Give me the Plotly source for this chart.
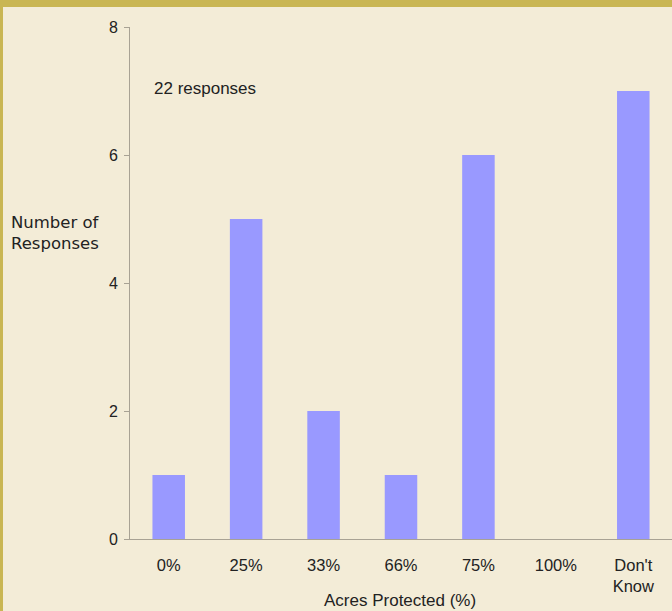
import plotly.graph_objects as go

categories = ["0%", "25%", "33%", "66%", "75%", "100%", "Don't<br>Know"]
responses = [1, 5, 2, 1, 6, 0, 7]
y_ticks = [0, 2, 4, 6, 8]

BG = "#F3ECD7"
GOLD = "#C9B653"
BAR = "#9999FF"
AXIS = "#A8A294"
TEXT = "#222222"
FONT = "Liberation Sans, Arial, sans-serif"

W, H = 672, 611
ML, MR, MT, MB = 130, 0, 27, 72
PW, PH = W - ML - MR, H - MT - MB


def px_x(x):
    return (x - ML) / PW


def px_y(y):
    return (H - MB - y) / PH


fig = go.Figure(
    go.Bar(
        x=categories,
        y=responses,
        marker=dict(color=BAR, line=dict(width=0)),
        hoverinfo="x+y",
    )
)

fig.update_layout(
    width=W,
    height=H,
    margin=dict(l=ML, r=MR, t=MT, b=MB),
    paper_bgcolor=BG,
    plot_bgcolor=BG,
    bargap=0.58,
    showlegend=False,
    font=dict(family=FONT, size=17, color=TEXT),
    xaxis=dict(
        type="category",
        showline=True,
        linecolor=AXIS,
        linewidth=1,
        ticks="",
        showgrid=False,
        zeroline=False,
        tickfont=dict(size=16.5),
        ticklabelstandoff=11,
    ),
    yaxis=dict(
        range=[0, 8],
        tickvals=y_ticks,
        showline=True,
        linecolor=AXIS,
        linewidth=1,
        ticks="outside",
        ticklen=5,
        tickcolor=AXIS,
        showgrid=False,
        zeroline=False,
        tickfont=dict(size=16),
        ticklabelstandoff=3,
    ),
    shapes=[
        dict(type="rect", xref="paper", yref="paper",
             x0=px_x(0), x1=px_x(W), y0=px_y(7), y1=px_y(0),
             fillcolor=GOLD, line=dict(width=0), layer="above"),
        dict(type="rect", xref="paper", yref="paper",
             x0=px_x(0), x1=px_x(3), y0=px_y(H), y1=px_y(0),
             fillcolor=GOLD, line=dict(width=0), layer="above"),
    ],
    annotations=[
        dict(text="22 responses", xref="paper", yref="paper",
             x=px_x(152), y=px_y(88), xanchor="left", yanchor="middle",
             showarrow=False, font=dict(size=17)),
        dict(text="Number of<br>Responses", xref="paper", yref="paper",
             x=px_x(9), y=px_y(233), xanchor="left", yanchor="middle",
             align="left", showarrow=False,
             font=dict(family="DejaVu Sans, Verdana, sans-serif", size=16.5)),
        dict(text="Acres Protected (%)", xref="paper", yref="paper",
             x=px_x(400), y=px_y(600), xanchor="center", yanchor="middle",
             showarrow=False, font=dict(size=17)),
    ],
)

fig.write_html("out.html")
